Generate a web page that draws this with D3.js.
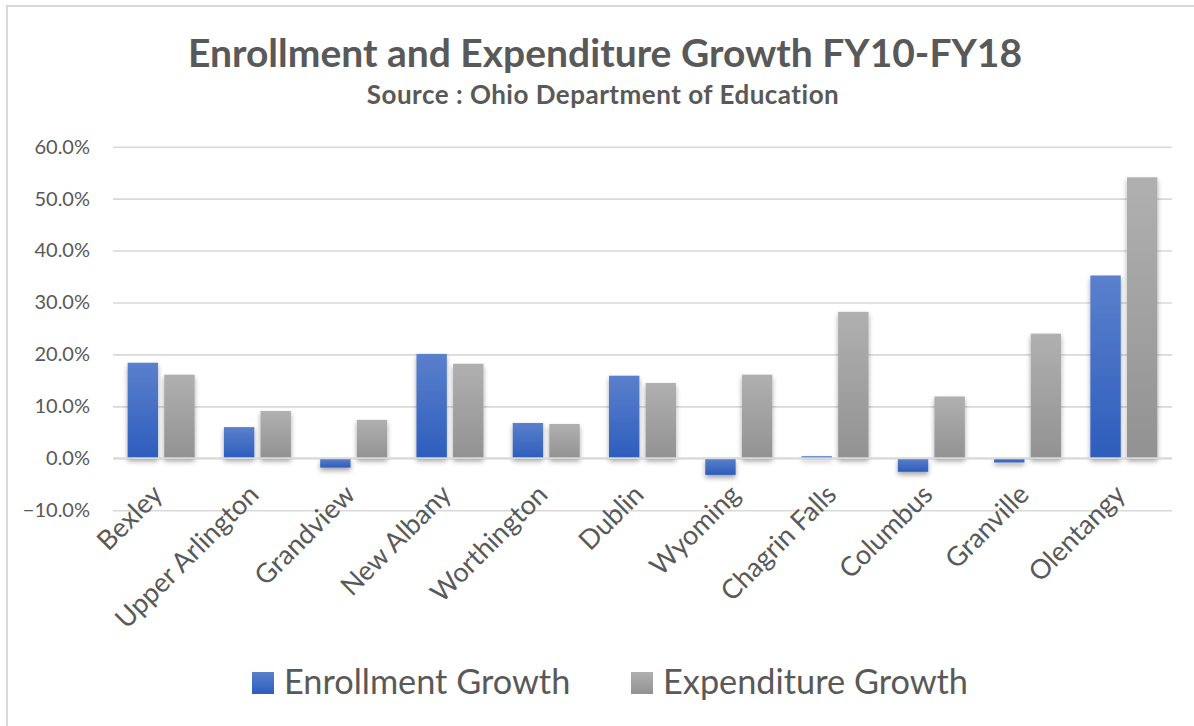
<!DOCTYPE html>
<html>
<head>
<meta charset="utf-8">
<script src="https://cdn.jsdelivr.net/npm/d3@7"></script>
<style>
  html, body { margin: 0; padding: 0; background: #fff; }
  svg { display: block; }
  text { font-family: Lato, "Open Sans", sans-serif; fill: #595959; }
</style>
</head>
<body>
<svg id="chart" width="1194" height="726"></svg>
<script>
// Growth between FY10 and FY18, in percent
const categories = ["Bexley", "Upper Arlington", "Grandview", "New Albany", "Worthington",
  "Dublin", "Wyoming", "Chagrin Falls", "Columbus", "Granville", "Olentangy"];
const enrollmentGrowth = [18.4, 6.0, -1.8, 20.1, 6.8, 15.9, -3.2, 0.4, -2.6, -0.8, 35.2];
const expenditureGrowth = [16.1, 9.1, 7.4, 18.2, 6.6, 14.5, 16.1, 28.2, 11.9, 24.0, 54.1];
const seriesNames = ["Enrollment Growth", "Expenditure Growth"];
const yTicks = [-10, 0, 10, 20, 30, 40, 50, 60];

const series = [
  { name: seriesNames[0], values: enrollmentGrowth, fill: "url(#gradBlue)" },
  { name: seriesNames[1], values: expenditureGrowth, fill: "url(#gradGray)" }
];

const svg = d3.select("#chart");
const plot = { left: 113, right: 1172, top: 146.7, bottom: 510.2 };

// gradients and the soft bar shadow
const defs = svg.append("defs");
function gradient(id, top, bottom) {
  const g = defs.append("linearGradient").attr("id", id)
    .attr("x1", 0).attr("y1", 0).attr("x2", 0).attr("y2", 1);
  g.append("stop").attr("offset", "0%").attr("stop-color", top);
  g.append("stop").attr("offset", "100%").attr("stop-color", bottom);
}
gradient("gradBlue", "#5b80cc", "#2d5dbc");
gradient("gradGray", "#b0b0b0", "#929292");
const shadow = defs.append("filter").attr("id", "barShadow")
  .attr("x", "-30%").attr("y", "-10%").attr("width", "160%").attr("height", "140%");
shadow.append("feDropShadow").attr("dx", 0).attr("dy", 3)
  .attr("stdDeviation", 2.5).attr("flood-color", "#000").attr("flood-opacity", 0.35);

// chart frame
svg.append("rect").attr("x", 7).attr("y", 6).attr("width", 1200).attr("height", 800)
  .attr("fill", "none").attr("stroke", "#d9d9d9").attr("stroke-width", 2);

// titles
svg.append("text").attr("x", 605).attr("y", 67).attr("text-anchor", "middle")
  .style("font-size", "39px").style("font-weight", "bold")
  .text("Enrollment and Expenditure Growth FY10-FY18");
svg.append("text").attr("x", 603).attr("y", 104).attr("text-anchor", "middle")
  .style("font-size", "26px").style("font-weight", "bold").style("letter-spacing", "0.5px")
  .text("Source : Ohio Department of Education");

// scales
const y = d3.scaleLinear().domain([-10, 60]).range([plot.bottom, plot.top]);
const x0 = d3.scaleBand().domain(categories).range([plot.left, plot.right])
  .paddingInner(0.304).paddingOuter(0.152);
const x1 = d3.scaleBand().domain(seriesNames).range([0, x0.bandwidth()]).paddingInner(0.17);

// gridlines
svg.append("g").attr("transform", `translate(${plot.left},0)`)
  .call(d3.axisLeft(y).tickValues(yTicks).tickSize(-(plot.right - plot.left)).tickFormat(""))
  .call(g => g.select(".domain").remove())
  .call(g => g.selectAll("line").attr("stroke", "#d9d9d9").attr("stroke-width", 1.6));

// y tick labels
svg.append("g").attr("transform", `translate(${plot.left},0)`)
  .call(d3.axisLeft(y).tickValues(yTicks).tickSize(0).tickPadding(23)
    .tickFormat(d => d3.format(".1f")(d) + "%"))
  .call(g => g.select(".domain").remove())
  .call(g => g.selectAll("text").style("font-size", "20px").style("fill", "#595959")
    .style("font-family", "Lato, 'Open Sans', sans-serif"));

// bars
const groups = svg.append("g").selectAll("g").data(series).join("g")
  .attr("fill", d => d.fill).attr("filter", "url(#barShadow)");
groups.selectAll("rect")
  .data(s => s.values.map((v, i) => ({ name: s.name, cat: categories[i], v })))
  .join("rect")
  .attr("x", d => x0(d.cat) + x1(d.name))
  .attr("width", x1.bandwidth())
  .attr("y", d => y(Math.max(0, d.v)))
  .attr("height", d => Math.abs(y(d.v) - y(0)));

// zero line on top of the bars
svg.append("line").attr("x1", plot.left).attr("x2", plot.right)
  .attr("y1", y(0)).attr("y2", y(0)).attr("stroke", "#d9d9d9").attr("stroke-width", 2.2);

// category labels, rotated
svg.append("g").selectAll("text").data(categories).join("text")
  .attr("text-anchor", "end")
  .attr("transform", d => `translate(${x0(d) + x0.bandwidth() / 2 + 3},${y(0) + 38}) rotate(-45)`)
  .style("font-size", "27px")
  .text(d => d);

// legend
const legendItems = [
  { name: seriesNames[0], fill: "url(#gradBlue)", x: 252 },
  { name: seriesNames[1], fill: "url(#gradGray)", x: 631 }
];
const lg = svg.append("g").selectAll("g").data(legendItems).join("g")
  .attr("transform", d => `translate(${d.x},672)`);
lg.append("rect").attr("width", 22).attr("height", 22).attr("fill", d => d.fill);
lg.append("text").attr("x", 32).attr("y", 22).style("font-size", "34.3px").text(d => d.name);
</script>
</body>
</html>
